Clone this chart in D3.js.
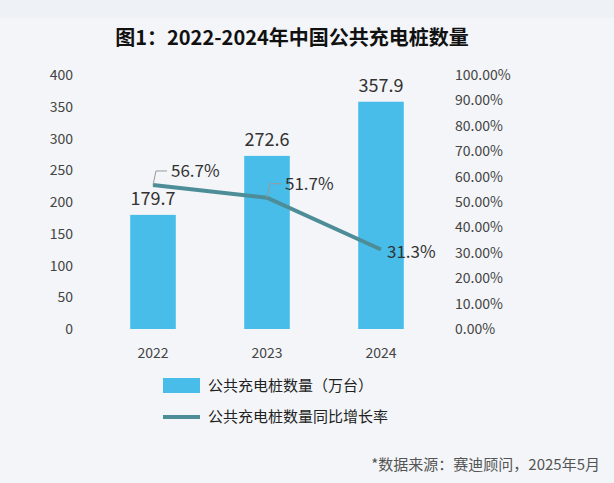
<!DOCTYPE html>
<html><head><meta charset="utf-8">
<script src="https://cdn.jsdelivr.net/npm/d3@7"></script>
<style>
body{margin:0;background:#eef1f5;}
text{font-family:"Noto Sans CJK SC","Noto Sans",sans-serif;}
</style></head>
<body><svg id="c" width="614" height="483"></svg>
<script>
"use strict";

// data
const years = ["2022", "2023", "2024"];
const piles = [179.7, 272.6, 357.9];        // 万台
const growth = [56.7, 51.7, 31.3];          // %
const leftTicks = [0, 50, 100, 150, 200, 250, 300, 350, 400];
const rightTicks = [0, 10, 20, 30, 40, 50, 60, 70, 80, 90, 100];

const svg = d3.select("#c");
const barColor = "#48bde9", lineColor = "#4d8d98", txt = "#444";

// background card
svg.append("rect").attr("width", 614).attr("height", 483).attr("fill", "#eef1f5");
svg.append("rect").attr("x", 0).attr("y", 18).attr("width", 614).attr("height", 465)
    .attr("fill", "#f3f5f8");

svg.append("text").attr("x", 292).attr("y", 45).attr("text-anchor", "middle")
    .attr("font-size", 20).attr("font-weight", "bold").attr("fill", "#111")
    .text("图1：2022-2024年中国公共充电桩数量");

let x = d3.scaleBand().domain(years).range([96, 438]).paddingInner(0.6).paddingOuter(0.3);
let y = d3.scaleLinear().domain([0, 400]).range([329, 75]);
let y2 = d3.scaleLinear().domain([0, 100]).range([329, 75]);

// left axis labels
svg.append("g").selectAll("text").data(leftTicks).join("text")
    .attr("x", 73).attr("y", d => y(d) + 5).attr("text-anchor", "end")
    .attr("font-size", 14).attr("fill", txt).text(d => d);
// right axis labels
svg.append("g").selectAll("text").data(rightTicks).join("text")
    .attr("x", 455).attr("y", d => y2(d) + 5)
    .attr("font-size", 14).attr("fill", txt).text(d => d.toFixed(2) + "%");

// bars
svg.append("g").selectAll("rect").data(piles).join("rect")
    .attr("x", (d, i) => x(years[i])).attr("width", x.bandwidth())
    .attr("y", d => y(d)).attr("height", d => y(0) - y(d))
    .attr("fill", barColor);
svg.append("g").selectAll("text").data(piles).join("text")
    .attr("x", (d, i) => x(years[i]) + x.bandwidth() / 2).attr("y", d => y(d) - 10)
    .attr("text-anchor", "middle").attr("font-size", 18).attr("fill", "#333")
    .text(d => d.toFixed(1));

// x labels
svg.append("g").selectAll("text").data(years).join("text")
    .attr("x", d => x(d) + x.bandwidth() / 2).attr("y", 358)
    .attr("text-anchor", "middle").attr("font-size", 14).attr("fill", txt).text(d => d);

// growth line
let cx = (d, i) => x(years[i]) + x.bandwidth() / 2;
svg.append("path").datum(growth)
    .attr("d", d3.line().x(cx).y(d => y2(d)))
    .attr("fill", "none").attr("stroke", lineColor).attr("stroke-width", 4);

// callouts for first two, plain label for last
growth.forEach((g, i) => {
    let px = cx(g, i), py = y2(g);
    if (i < 2) {
        svg.append("path")
            .attr("d", `M${px},${py} L${px + 3},${py - 14} L${px + 14},${py - 14}`)
            .attr("fill", "none").attr("stroke", "#999").attr("stroke-width", 1);
        svg.append("text").attr("x", px + 18).attr("y", py - 8)
            .attr("font-size", 17).attr("fill", "#333").text(g.toFixed(1) + "%");
    } else {
        svg.append("text").attr("x", px + 6).attr("y", py + 9)
            .attr("font-size", 17).attr("fill", "#333").text(g.toFixed(1) + "%");
    }
});

// legend
svg.append("rect").attr("x", 163).attr("y", 378).attr("width", 37).attr("height", 15)
    .attr("fill", barColor);
svg.append("text").attr("x", 208).attr("y", 391).attr("font-size", 15).attr("fill", "#222")
    .text("公共充电桩数量（万台）");
svg.append("line").attr("x1", 163).attr("x2", 200).attr("y1", 417).attr("y2", 417)
    .attr("stroke", lineColor).attr("stroke-width", 4);
svg.append("text").attr("x", 208).attr("y", 422).attr("font-size", 15).attr("fill", "#222")
    .text("公共充电桩数量同比增长率");

svg.append("text").attr("x", 600).attr("y", 470).attr("text-anchor", "end")
    .attr("font-size", 15).attr("fill", "#555").text("*数据来源：赛迪顾问，2025年5月");
</script></body></html>
